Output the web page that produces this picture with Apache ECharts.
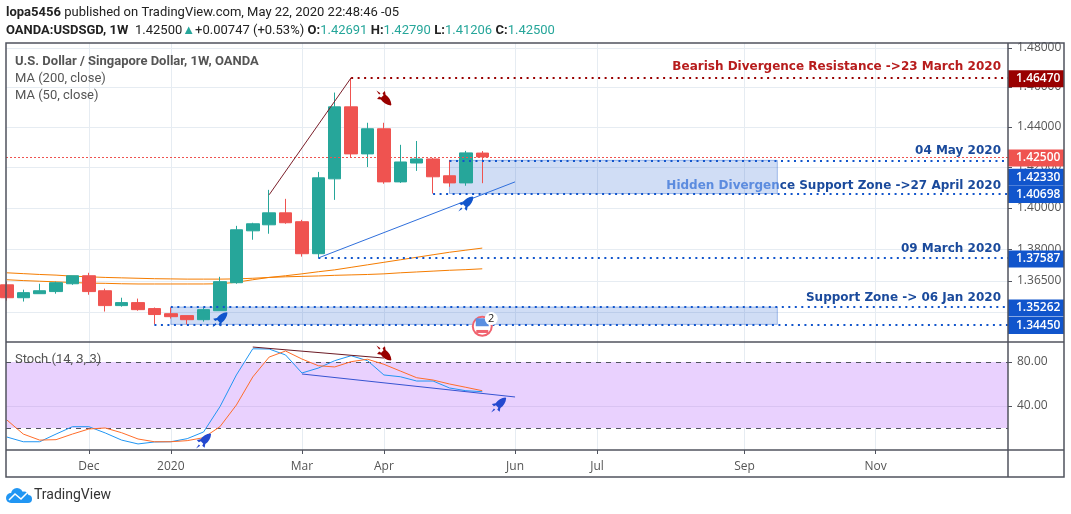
<!DOCTYPE html>
<html>
<head>
<meta charset="utf-8">
<title>USDSGD 1W</title>
<script src="https://cdn.jsdelivr.net/npm/echarts@6/dist/echarts.min.js"></script>
<style>
html,body{margin:0;padding:0;background:#fff;}
#chart{width:1071px;height:514px;}
</style>
</head>
<body>
<div id="chart"></div>
<script>
// weekly candles
var weekDates = ['2019-10-28','2019-11-04','2019-11-11','2019-11-18','2019-11-25','2019-12-02','2019-12-09','2019-12-16','2019-12-23','2019-12-30',
	'2020-01-06','2020-01-13','2020-01-20','2020-01-27','2020-02-03','2020-02-10','2020-02-17','2020-02-24','2020-03-02','2020-03-09',
	'2020-03-16','2020-03-23','2020-03-30','2020-04-06','2020-04-13','2020-04-20','2020-04-27','2020-05-04','2020-05-11','2020-05-18'];
var opens = [1.3631,1.3570,1.3589,1.3599,1.3636,1.3674,1.3603,1.3533,1.3547,1.3519,1.3495,1.3486,1.3467,1.3509,1.3641,1.3889,1.3918,1.3976,1.3933,1.3779,1.4142,1.4500,1.4265,1.4390,1.4127,1.4220,1.4240,1.4157,1.4122,1.42691];
var closes = [1.3570,1.3594,1.3603,1.3641,1.3674,1.3599,1.3533,1.3547,1.3514,1.3491,1.3481,1.3467,1.3514,1.3646,1.3894,1.3923,1.3976,1.3928,1.3779,1.4147,1.4500,1.4265,1.4390,1.4127,1.4225,1.4240,1.4152,1.4122,1.4270,1.42500];
var lows = [1.3556,1.3552,1.3589,1.3589,1.3631,1.3584,1.3505,1.3528,1.3509,1.3445,1.3472,1.3445,1.3458,1.3509,1.3636,1.3846,1.3875,1.3923,1.3765,1.37587,1.4039,1.4245,1.4200,1.4118,1.4122,1.4181,1.40698,1.4103,1.4108,1.41206];
var highs = [1.3646,1.3608,1.3636,1.3646,1.3674,1.3688,1.3613,1.3570,1.3566,1.3524,1.3524,1.3486,1.3524,1.3669,1.3913,1.3928,1.4088,1.4044,1.3942,1.4176,1.4572,1.4647,1.4420,1.4420,1.4310,1.4329,1.4245,1.4235,1.4280,1.42790];
var ma200 = [1.3688,1.3684,1.3680,1.3677,1.3672,1.3669,1.3666,1.3664,1.3662,1.3660,1.3659,1.3658,1.3658,1.3658,1.3659,1.3662,1.3666,1.3669,1.3671,1.3673,1.3676,1.3678,1.3680,1.3683,1.3688,1.3692,1.3696,1.3700,1.3703,1.3707];
var ma50 = [1.3655,1.3651,1.3648,1.3645,1.3642,1.3639,1.3638,1.3636,1.3635,1.3635,1.3635,1.3635,1.3635,1.3636,1.3643,1.3655,1.3666,1.3674,1.3683,1.3693,1.3702,1.3714,1.3726,1.3738,1.3750,1.3762,1.3774,1.3786,1.3796,1.3806];
var stochK = [11.8,7.5,7.5,14.5,21.2,21.2,15.5,9,5.5,7.3,7.5,10.3,16.4,39.4,68.2,92,91.8,86.4,70,74.5,81.2,85.7,81.2,68.2,66.6,62.7,62.7,56.4,53.9,53];
var stochD = [27.3,14.5,9,9.4,14.5,19.1,20,15.7,10,7.5,7.5,8.5,11.2,21.2,40.9,66.4,84.5,90,82.7,76.6,75.5,80.3,82.5,77.9,71.8,65.7,63.6,60,57,53.9];

// axes
var priceTicks = [1.48,1.46,1.44,1.42,1.40,1.38,1.365,1.35];
var stochTicks = [80,40];
var timeTickDates = ['2019-12-02','2020-01-06','2020-03-02','2020-04-06','2020-06-01','2020-07-06','2020-09-07','2020-11-02'];
var timeTickLabels = ['Dec','2020','Mar','Apr','Jun','Jul','Sep','Nov'];
var axisStart = '2019-10-27T15:00:00Z';
var axisEnd = '2020-12-28T12:00:00Z';

// drawings: [first date, price]
var resistanceLevel = ['2020-03-23',1.46470];
var supportLevels = [['2020-05-04',1.42330,17],['2020-04-27',1.40698,1],['2020-03-09',1.37587,1],['2020-01-06',1.35262,1],['2019-12-30',1.34450,1]];
var zones = [['2020-05-04','2020-09-21',1.4233,1.40698],['2020-01-06','2020-09-21',1.35262,1.3445]];
var lastPrice = 1.425;
var bearTrend = [['2020-02-17',1.4064],['2020-03-23',1.4647]];
var bullTrend = [['2020-03-09',1.37587],['2020-06-01',1.4127]];
var stochBearTrend = [['2020-02-10',93.6],['2020-04-06',83.6]];
var stochBullTrend = [['2020-03-02',69.1],['2020-06-01',48.2]];

// notes: text, price, colour, and the part of the text that lies under a zone
var notes = [
	['Bearish Divergence Resistance ->23 March 2020',1.4703,'#b71c1c',''],
	['04 May 2020',1.4280,'#1a4a9c',''],
	['ce Support Zone ->27 April 2020',1.4107,'#1a4a9c','Hidden Divergen'],
	['09 March 2020',1.3803,'#1a4a9c',''],
	['Support Zone -> 06 Jan 2020',1.3570,'#1a4a9c','']
];
var notesRight = '2020-12-25T12:00:00Z';
var priceRockets = [['2020-04-06',1.4545,'#990000',-90],['2020-05-11',1.4019,'#1155cc',0],['2020-01-27',1.3467,'#1155cc',0]];
var stochRockets = [['2020-04-06',88.2,'#990000',-90],['2020-05-25',40.9,'#2549cf',0],['2020-01-20',8.2,'#2549cf',0]];

var ROCKET = 'path://M22 1C16 1.500 11 4.500 7.500 9.500L2 10.500L5 14L8 12.500L11.500 16L10 19L13.500 22L14.500 16.500C19.500 13 22.500 8 23 2ZM5 17L1 23L7 19Z';
var GRID_COLOR = '#e6ecf2';
var FRAME_COLOR = '#50535e';
var TEXT_FONT = '"Open Sans", sans-serif';
var HEAD_FONT = 'Roboto, sans-serif';
var NOTE_FONT = '"DejaVu Sans", sans-serif';

function ms(d) {
	return +new Date(d.length > 10 ? d : d + 'T00:00:00Z');
}

var candleData = [];
for (var i = 0; i < weekDates.length; i++) {
	candleData.push([ms(weekDates[i]), opens[i], closes[i], lows[i], highs[i]]);
}
function withDates(values) {
	return values.map(function(v, i) {
		return [ms(weekDates[i]), v];
	});
}
function tagLabel(price, color, dy) {
	return {
		show: true, position: 'end', distance: 0, offset: [0, dy],
		formatter: price.toFixed(5),
		color: '#fff', backgroundColor: color,
		fontFamily: TEXT_FONT, fontSize: 12, fontWeight: 600,
		width: 46, height: 11, lineHeight: 11, padding: [3, 2, 3, 8], align: 'left'
	};
}
function levelLine(date, price, color, dy) {
	return [{
		coord: [ms(date), price],
		lineStyle: {color: color, width: 2, type: [2, 4.5]},
		label: tagLabel(price, color, dy)
	}, {coord: [ms(axisEnd), price]}];
}
function trendLine(points, color, width) {
	return [{
		coord: [ms(points[0][0]), points[0][1]],
		lineStyle: {color: color, width: width, type: 'solid'}
	}, {coord: [ms(points[1][0]), points[1][1]]}];
}
function rocketPoints(list) {
	return list.map(function(r) {
		return {coord: [ms(r[0]), r[1]], symbolRotate: r[3], itemStyle: {color: r[2]}};
	});
}
function noteStyle(color) {
	return {color: color, fontFamily: NOTE_FONT, fontSize: 12, fontWeight: 'bold'};
}

var levelData = [levelLine(resistanceLevel[0], resistanceLevel[1], '#990000', 1)];
supportLevels.forEach(function(l) {
	levelData.push(levelLine(l[0], l[1], '#1155cc', l[2]));
});
levelData.push(trendLine(bearTrend, '#7b1f2a', 1));
levelData.push(trendLine(bullTrend, '#2f6fdc', 1));

var option = {
	animation: false,
	backgroundColor: '#fff',
	grid: [
		{left: 6, width: 1002, top: 43, height: 299},
		{left: 6, width: 1002, top: 342, height: 108}
	],
	xAxis: [0, 1].map(function(n) {
		return {
			type: 'value', gridIndex: n, min: ms(axisStart), max: ms(axisEnd), scale: true,
			axisLine: {show: false},
			axisTick: {show: n == 1, length: 4, customValues: timeTickDates.map(ms), lineStyle: {color: FRAME_COLOR}},
			axisLabel: {
				show: n == 1, customValues: timeTickDates.map(ms), margin: 11,
				color: '#555', fontFamily: TEXT_FONT, fontSize: 12,
				formatter: function(v) {
					var k = timeTickDates.map(ms).indexOf(+v);
					return k < 0 ? '' : timeTickLabels[k];
				}
			},
			splitLine: {show: true, customValues: timeTickDates.map(ms), lineStyle: {color: GRID_COLOR, width: 1}}
		};
	}),
	yAxis: [{
		type: 'log', gridIndex: 0, position: 'right', min: 1.3363, max: 1.4825,
		axisLine: {show: false},
		axisTick: {show: true, length: 4, customValues: priceTicks, lineStyle: {color: FRAME_COLOR}},
		axisLabel: {
			customValues: priceTicks, margin: 9, color: '#555', fontFamily: TEXT_FONT, fontSize: 12, padding: [3, 0, 0, 0],
			formatter: function(v) { return (+v).toFixed(5); }
		},
		splitLine: {show: true, customValues: priceTicks, lineStyle: {color: GRID_COLOR, width: 1}}
	}, {
		type: 'value', gridIndex: 1, position: 'right', min: 0, max: 98.18,
		axisLine: {show: false},
		axisTick: {show: true, length: 4, customValues: stochTicks, lineStyle: {color: FRAME_COLOR}},
		axisLabel: {
			customValues: stochTicks, margin: 9, color: '#555', fontFamily: TEXT_FONT, fontSize: 12, padding: [2, 0, 0, 0],
			formatter: function(v) { return (+v).toFixed(2); }
		},
		splitLine: {show: false}
	}],
	series: [
		{
			// annotation texts, they sit under the zones
			type: 'line', name: 'notes', data: [], xAxisIndex: 0, yAxisIndex: 0,
			markPoint: {
				z: 1, silent: true, symbol: 'circle', symbolSize: 0,
				data: notes.map(function(n) {
					return {
						coord: [ms(notesRight), n[1]],
						label: {
							show: true, position: 'left', distance: 0,
							formatter: (n[3] ? '{u|' + n[3] + '}' : '') + '{t|' + n[0] + '}',
							rich: {u: noteStyle('#6e9ae4'), t: noteStyle(n[2])}
						}
					};
				})
			}
		},
		{
			type: 'line', name: 'zones', data: [], xAxisIndex: 0, yAxisIndex: 0,
			markArea: {
				z: 2, silent: true,
				itemStyle: {color: 'rgba(21,86,206,0.2)', borderColor: 'rgba(21,86,206,0.35)', borderWidth: 1},
				data: zones.map(function(z) {
					return [{coord: [ms(z[0]), z[2]]}, {coord: [ms(z[1]), z[3]]}];
				})
			}
		},
		{
			type: 'line', name: 'MA 200', data: withDates(ma200), z: 3, showSymbol: false, symbol: 'none',
			xAxisIndex: 0, yAxisIndex: 0, lineStyle: {color: '#f57c00', width: 1}
		},
		{
			type: 'line', name: 'MA 50', data: withDates(ma50), z: 3, showSymbol: false, symbol: 'none',
			xAxisIndex: 0, yAxisIndex: 0, lineStyle: {color: '#f57c00', width: 1}
		},
		{
			type: 'candlestick', name: 'USDSGD', data: candleData, z: 4, barWidth: 13,
			xAxisIndex: 0, yAxisIndex: 0, encode: {x: 0, y: [1, 2, 3, 4]},
			itemStyle: {color: '#26a69a', color0: '#ef5350', borderColor: '#26a69a', borderColor0: '#ef5350', borderWidth: 1}
		},
		{
			type: 'line', name: 'levels', data: [], xAxisIndex: 0, yAxisIndex: 0, clip: false,
			markLine: {
				z: 6, silent: true, symbol: 'none', precision: 5,
				label: {show: false},
				data: [[{
					coord: [ms(axisStart), lastPrice],
					lineStyle: {color: '#ef5350', width: 1, type: [2, 2]},
					label: tagLabel(lastPrice, '#ef5350', 1)
				}, {coord: [ms(axisEnd), lastPrice]}]].concat(levelData)
			},
			markPoint: {
				z: 7, silent: true, symbol: ROCKET, symbolSize: 15,
				data: rocketPoints(priceRockets).concat([
					{coord: [ms('2020-05-18'), 1.3436], symbol: 'circle', symbolSize: 19,
						itemStyle: {color: '#fff', borderColor: '#f0626e', borderWidth: 2}},
					{coord: [ms('2020-05-18'), 1.3455], symbol: 'rect', symbolSize: [13, 8], itemStyle: {color: '#5b8fe0'}},
					{coord: [ms('2020-05-18'), 1.3412], symbol: 'rect', symbolSize: [12, 3], itemStyle: {color: '#f0626e'}},
					{coord: [ms('2020-05-18'), 1.3472], symbol: 'circle', symbolSize: 13, symbolOffset: [9, 0], itemStyle: {color: '#fff'},
						label: {show: true, position: 'inside', formatter: '2', color: '#222', fontFamily: TEXT_FONT, fontSize: 11}}
				])
			}
		},
		{
			type: 'line', name: 'Stoch K', data: withDates(stochK), z: 3, showSymbol: false, symbol: 'none',
			xAxisIndex: 1, yAxisIndex: 1, lineStyle: {color: '#2196f3', width: 1},
			markArea: {
				z: 1, silent: true, itemStyle: {color: '#e9d1fe'},
				data: [[{yAxis: 20}, {yAxis: 80}]]
			}
		},
		{
			type: 'line', name: 'Stoch D', data: withDates(stochD), z: 3, showSymbol: false, symbol: 'none',
			xAxisIndex: 1, yAxisIndex: 1, lineStyle: {color: '#ff6d2a', width: 1},
			markLine: {
				z: 2, silent: true, symbol: 'none', label: {show: false},
				data: [
					{yAxis: 80, lineStyle: {color: FRAME_COLOR, width: 1, type: [5, 5]}},
					{yAxis: 20, lineStyle: {color: FRAME_COLOR, width: 1, type: [5, 5]}},
					{yAxis: 40, lineStyle: {color: '#d9c3f2', width: 1, type: 'solid'}}
				]
			}
		},
		{
			type: 'line', name: 'stoch drawings', data: [], xAxisIndex: 1, yAxisIndex: 1,
			markLine: {
				z: 6, silent: true, symbol: 'none', label: {show: false},
				data: [trendLine(stochBearTrend, '#6b1a24', 1), trendLine(stochBullTrend, '#3654d2', 1)]
			},
			markPoint: {
				z: 7, silent: true, symbol: ROCKET, symbolSize: 15,
				data: rocketPoints(stochRockets)
			}
		}
	],
	graphic: [
		{
			type: 'text', left: 6, top: 6, silent: true,
			style: {
				rich: {
					b: {fontFamily: HEAD_FONT, fontSize: 13, fontWeight: 700, fill: '#222'},
					n: {fontFamily: HEAD_FONT, fontSize: 13, fill: '#222'}
				},
				text: '{b|lopa5456} {n|published on TradingView.com, May 22, 2020 22:48:46 -05}'
			}
		},
		{
			type: 'text', left: 6, top: 24, silent: true,
			style: {
				rich: {
					b: {fontFamily: HEAD_FONT, fontSize: 13, fontWeight: 700, fill: '#222'},
					n: {fontFamily: HEAD_FONT, fontSize: 13, fill: '#222'},
					g: {fontFamily: HEAD_FONT, fontSize: 13, fill: '#26a69a'}
				},
				text: '{b|OANDA:USDSGD, 1W}  {n|1.42500}{g|▲}{n|+0.00747 (+0.53%)} {b|O:}{g|1.42691} {b|H:}{g|1.42790} {b|L:}{g|1.41206} {b|C:}{g|1.42500}'
			}
		},
		{type: 'text', left: 15, top: 55, silent: true, z: 20,
			style: {text: 'U.S. Dollar / Singapore Dollar, 1W, OANDA', fontFamily: HEAD_FONT, fontSize: 13, fontWeight: 700, fill: '#555'}},
		{type: 'text', left: 15, top: 72, silent: true, z: 20,
			style: {text: 'MA (200, close)', fontFamily: HEAD_FONT, fontSize: 13, fill: '#555'}},
		{type: 'text', left: 15, top: 89, silent: true, z: 20,
			style: {text: 'MA (50, close)', fontFamily: HEAD_FONT, fontSize: 13, fill: '#555'}},
		{type: 'text', left: 15, top: 353, silent: true, z: 20,
			style: {text: 'Stoch (14, 3, 3)', fontFamily: HEAD_FONT, fontSize: 13, fill: '#555'}},
		// frame
		{type: 'rect', silent: true, z: 10, shape: {x: 6, y: 43, width: 1058, height: 434},
			style: {fill: 'none', stroke: FRAME_COLOR, lineWidth: 1.5}},
		{type: 'line', silent: true, z: 10, shape: {x1: 1008, y1: 43, x2: 1008, y2: 477},
			style: {stroke: FRAME_COLOR, lineWidth: 1.5}},
		{type: 'line', silent: true, z: 10, shape: {x1: 6, y1: 342, x2: 1064, y2: 342},
			style: {stroke: FRAME_COLOR, lineWidth: 1.5}},
		{type: 'line', silent: true, z: 10, shape: {x1: 6, y1: 450, x2: 1064, y2: 450},
			style: {stroke: FRAME_COLOR, lineWidth: 1.5}},
		// logo
		{type: 'circle', silent: true, z: 10, shape: {cx: 11, cy: 498, r: 5}, style: {fill: '#2196f3'}},
		{type: 'circle', silent: true, z: 10, shape: {cx: 17, cy: 494, r: 6}, style: {fill: '#2196f3'}},
		{type: 'circle', silent: true, z: 10, shape: {cx: 24, cy: 496, r: 4.500}, style: {fill: '#2196f3'}},
		{type: 'circle', silent: true, z: 10, shape: {cx: 28, cy: 499, r: 4}, style: {fill: '#2196f3'}},
		{type: 'rect', silent: true, z: 10, shape: {x: 11, y: 497, width: 17, height: 6}, style: {fill: '#2196f3'}},
		{type: 'polyline', silent: true, z: 11, shape: {points: [[9, 500], [15, 494], [21, 499], [28, 492]]},
			style: {fill: 'none', stroke: '#fff', lineWidth: 1.5}},
		{type: 'text', left: 34, top: 488, silent: true,
			style: {text: 'TradingView', fontFamily: HEAD_FONT, fontSize: 14, fill: '#333'}}
	]
};

var chart = echarts.init(document.getElementById('chart'));
chart.setOption(option);
</script>
</body>
</html>
